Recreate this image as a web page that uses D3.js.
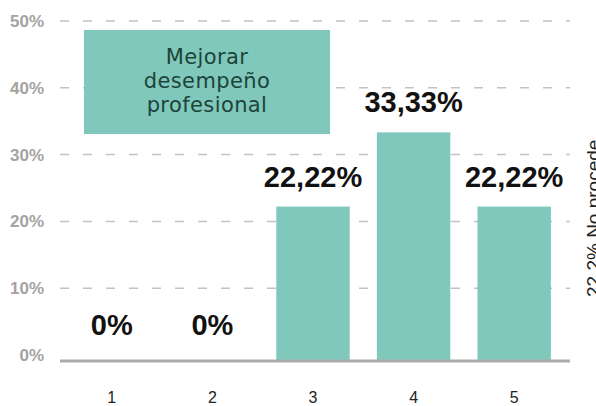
<!DOCTYPE html>
<html>
<head>
<meta charset="utf-8">
<script src="https://cdn.jsdelivr.net/npm/d3@7"></script>
<style>
  body { margin: 0; background: #fff; }
  svg { display: block; }
</style>
</head>
<body>
<div id="chart"></div>
<script>
// data
var categories = ["1", "2", "3", "4", "5"];
var values = [0, 0, 22.22, 33.33, 22.22];
var valueLabels = ["0%", "0%", "22,22%", "33,33%", "22,22%"];
var yTicks = [0, 10, 20, 30, 40, 50];
var legendLines = ["Mejorar", "desempeño", "profesional"];
var sideNote = "22,2% No procede";

var width = 596, height = 406;
var axisY = 360;           // baseline of the bars
var barColor = "#80c8bc";

var svg = d3.select("#chart").append("svg")
    .attr("width", width)
    .attr("height", height);

var xScale = d3.scaleBand()
    .domain(categories)
    .range([56, 570])
    .paddingInner(0.27)
    .paddingOuter(0.19);

var yScale = d3.scaleLinear()
    .domain([0, 50])
    .range([355, 21]);

// dashed gridlines (not at zero, the axis line sits there)
svg.append("g").selectAll("line")
    .data(yTicks.filter(function (d) { return d > 0; }))
    .enter().append("line")
    .attr("x1", 60)
    .attr("x2", 570)
    .attr("y1", function (d) { return yScale(d); })
    .attr("y2", function (d) { return yScale(d); })
    .attr("stroke", "#c2c2c2")
    .attr("stroke-width", 1.5)
    .attr("stroke-dasharray", "9,14");

// y tick labels
svg.append("g").selectAll("text")
    .data(yTicks)
    .enter().append("text")
    .attr("x", 44)
    .attr("y", function (d) { return yScale(d); })
    .attr("dy", "0.35em")
    .attr("text-anchor", "end")
    .style("font-family", "'Liberation Sans', Arial, sans-serif")
    .style("font-size", "17px")
    .style("font-weight", "600")
    .style("fill", "#a3a3a3")
    .text(function (d) { return d + "%"; });

// bars
svg.append("g").selectAll("rect")
    .data(values)
    .enter().append("rect")
    .attr("x", function (d, i) { return xScale(categories[i]); })
    .attr("width", xScale.bandwidth())
    .attr("y", function (d) { return yScale(d); })
    .attr("height", function (d) { return d > 0 ? axisY - yScale(d) : 0; })
    .attr("fill", barColor);

// axis line
svg.append("line")
    .attr("x1", 60)
    .attr("x2", 570)
    .attr("y1", axisY + 1)
    .attr("y2", axisY + 1)
    .attr("stroke", "#ababab")
    .attr("stroke-width", 3);

// x tick labels
var xAxis = d3.axisBottom(xScale).tickSize(0).tickPadding(0);
var xg = svg.append("g")
    .attr("transform", "translate(0," + 392 + ")")
    .call(xAxis);
xg.select(".domain").remove();
xg.selectAll("text")
    .style("font-family", "'Liberation Sans', Arial, sans-serif")
    .style("font-size", "16px")
    .style("fill", "#222");

// value labels
svg.append("g").selectAll("text")
    .data(values)
    .enter().append("text")
    .attr("x", function (d, i) { return xScale(categories[i]) + xScale.bandwidth() / 2; })
    .attr("y", function (d) { return Math.min(yScale(d) - 20, axisY - 16); })
    .attr("text-anchor", "middle")
    .style("font-family", "'Liberation Sans', Arial, sans-serif")
    .style("font-size", "29px")
    .style("font-weight", "bold")
    .style("fill", "#111")
    .text(function (d, i) { return valueLabels[i]; });

// legend box
var legend = svg.append("g");
legend.append("rect")
    .attr("x", 84)
    .attr("y", 30)
    .attr("width", 246)
    .attr("height", 104)
    .attr("fill", barColor);
legend.selectAll("text")
    .data(legendLines)
    .enter().append("text")
    .attr("x", 207)
    .attr("y", function (d, i) { return 64 + i * 24; })
    .attr("text-anchor", "middle")
    .style("font-family", "'DejaVu Sans', sans-serif")
    .style("font-size", "21px")
    .style("letter-spacing", "0.4px")
    .style("fill", "#1c4438")
    .text(function (d) { return d; });

// rotated note on the right edge
svg.append("text")
    .attr("transform", "translate(600,297) rotate(-90)")
    .style("font-family", "'Liberation Sans', Arial, sans-serif")
    .style("font-size", "19px")
    .style("fill", "#222")
    .text(sideNote);
</script>
</body>
</html>
